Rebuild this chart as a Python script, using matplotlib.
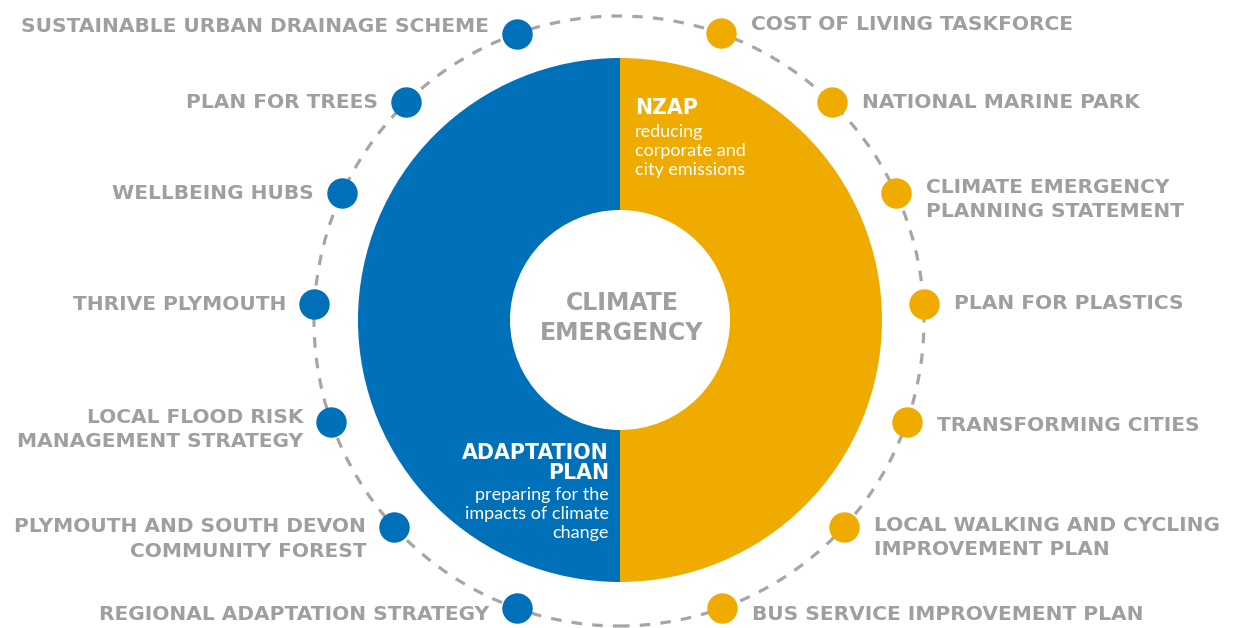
import numpy as np
import matplotlib
matplotlib.use("Agg")
import matplotlib.pyplot as plt

# donut halves
halves = ["ADAPTATION\nPLAN", "NZAP"]
half_values = [50, 50]
half_notes = ["preparing for the\nimpacts of climate\nchange",
              "reducing\ncorporate and\ncity emissions"]

# projects around the ring (angles in degrees, counter-clockwise from east)
left_labels = ["SUSTAINABLE URBAN DRAINAGE SCHEME", "PLAN FOR TREES", "WELLBEING HUBS",
               "THRIVE PLYMOUTH", "LOCAL FLOOD RISK\nMANAGEMENT STRATEGY",
               "PLYMOUTH AND SOUTH DEVON\nCOMMUNITY FOREST", "REGIONAL ADAPTATION STRATEGY"]
left_angles = [109.6, 134.2, 155.2, 176.8, 199.4, 222.5, 250.4]

right_labels = ["COST OF LIVING TASKFORCE", "NATIONAL MARINE PARK",
                "CLIMATE EMERGENCY\nPLANNING STATEMENT", "PLAN FOR PLASTICS",
                "TRANSFORMING CITIES", "LOCAL WALKING AND CYCLING\nIMPROVEMENT PLAN",
                "BUS SERVICE IMPROVEMENT PLAN"]
right_angles = [70.5, 45.8, 24.9, 3.2, -19.4, -42.6, -70.3]

blue = "#0070b8"
yellow = "#f0ab00"
grey = "#9f9f9f"

# layout (pixel units, y up)
W, H = 1249, 628
cx, cy = 620, 308
rx, ry = 619, 307
r_out, r_in, r_ring = 262, 110, 305
left_dy = [7, 0, 0, -1, -7, -12, -6]
right_dy = [9, 0, -7, 0, -3, -10, -6]
lab_font = dict(color=grey, fontsize=14.5, fontweight="bold", family="DejaVu Sans",
                linespacing=1.35)

fig = plt.figure(figsize=(W / 100, H / 100), dpi=100)
ax = fig.add_axes([0, 0, 1, 1])

ax.pie(half_values, colors=[blue, yellow], startangle=90, counterclock=True,
       radius=r_out, center=(cx, cy), wedgeprops=dict(width=r_out - r_in, linewidth=0))

ring = plt.Circle((rx, ry), r_ring, fill=False, ec="#a6a6a6", lw=2.3,
                  linestyle=(0, (3.3, 3.2)), zorder=1)
ax.add_patch(ring)

def draw_side(labels, angles, dys, color, side):
    a = np.radians(angles)
    xs = rx + r_ring * np.cos(a)
    ys = ry + r_ring * np.sin(a)
    ax.scatter(xs, ys, s=480, color=color, zorder=3, linewidths=0)
    for lab, x, y, dy in zip(labels, xs, ys, dys):
        if side == "left":
            ax.text(x - 28, y + dy, lab, ha="right", va="center", ma="right", **lab_font)
        else:
            ax.text(x + 30, y + dy, lab, ha="left", va="center", ma="left", **lab_font)

draw_side(left_labels, left_angles, left_dy, blue, "left")
draw_side(right_labels, right_angles, right_dy, yellow, "right")

ax.text(cx + 2, cy + 2, "CLIMATE\nEMERGENCY", ha="center", va="center", color=grey,
        fontsize=17, fontweight="bold", family="DejaVu Sans", linespacing=1.3)

# NZAP text
ax.text(635, H - 108, halves[1], ha="left", va="center", color="white",
        fontsize=14.8, fontweight="bold", family="DejaVu Sans")
ax.text(635, H - 151, half_notes[1], ha="left", va="center", color="white",
        fontsize=13, family="Lato", linespacing=1.22)

# Adaptation text
ax.text(609, H - 463, halves[0], ha="right", va="center", ma="right", color="white",
        fontsize=14.8, fontweight="bold", family="DejaVu Sans", linespacing=1.0)
ax.text(609, H - 514, half_notes[0], ha="right", va="center", ma="right", color="white",
        fontsize=13, family="Lato", linespacing=1.25)

ax.set_xlim(0, W)
ax.set_ylim(0, H)
ax.set_aspect("equal")
ax.axis("off")

fig.savefig("out.png", dpi=100, facecolor="white")
